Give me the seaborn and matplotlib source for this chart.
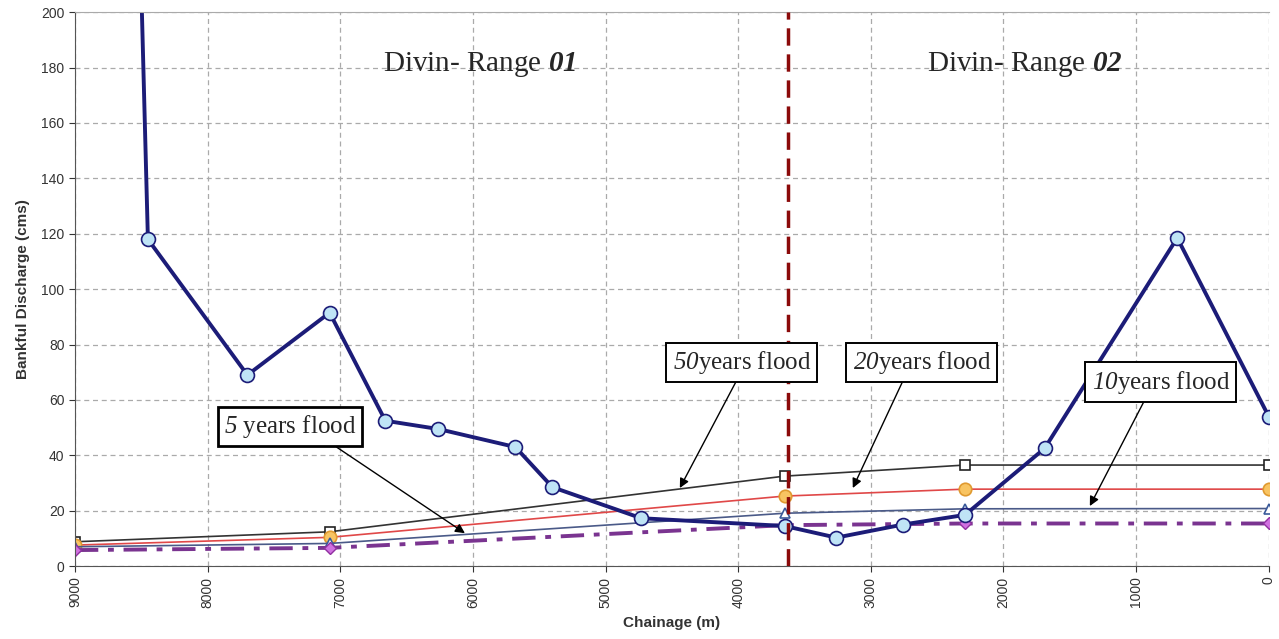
import pandas as pd
import seaborn as sns
import matplotlib.pyplot as plt

# bankful discharge along the reach
chainage = [8530, 8450, 7700, 7080, 6660, 6260, 5680, 5400, 4730, 3650, 3260, 2760, 2290, 1690, 690, 0]
discharge = [263, 118, 69, 91.5, 52.5, 49.5, 43, 28.5, 17.3, 14.5, 10.3, 15, 18.5, 42.5, 118.5, 54]

# flood discharges
flood_x = [9000, 7080, 3650, 2290, 0]
q50 = [8.8, 12.4, 32.5, 36.5, 36.5]
q20 = [7.6, 10.4, 25.3, 27.8, 27.8]
q10 = [7.0, 8.2, 19.1, 20.7, 20.8]
q5 = [5.8, 6.6, 14.8, 15.4, 15.4]

divide_x = 3625

sns.set_style("white")
plt.rcParams['font.family'] = ['Liberation Sans', 'DejaVu Sans']
plt.rcParams['mathtext.fontset'] = 'custom'
plt.rcParams['mathtext.rm'] = 'Liberation Serif'
plt.rcParams['mathtext.sf'] = 'Liberation Serif:italic'   # italic digits
plt.rcParams['mathtext.bf'] = 'Liberation Serif:bold:italic'

fig = plt.figure(figsize=(12.79, 6.39), dpi=100)
ax = fig.add_axes([0.0586, 0.114, 0.9334, 0.867])

sns.lineplot(x=flood_x, y=q50, ax=ax, color='#333333', lw=1.2, marker='s',
             markersize=7, markerfacecolor='white', markeredgecolor='#222222', markeredgewidth=1.2, sort=False)
sns.lineplot(x=flood_x, y=q20, ax=ax, color='#e04848', lw=1.2, marker='o',
             markersize=9, markerfacecolor='#f8c462', markeredgecolor='#e09a30', markeredgewidth=1.2, sort=False)
sns.lineplot(x=flood_x, y=q10, ax=ax, color='#4a5a88', lw=1.2, marker='^',
             markersize=7, markerfacecolor='white', markeredgecolor='#3a5a9a', markeredgewidth=1.2, sort=False)
sns.lineplot(x=flood_x, y=q5, ax=ax, color='#7a3490', lw=2.8, marker='D', linestyle=(0, (6, 2.5, 1.5, 2.5)),
             markersize=6, markerfacecolor='#d070e0', markeredgecolor='#9030a0', markeredgewidth=1, sort=False)
sns.lineplot(x=chainage, y=discharge, ax=ax, color='#1c1c78', lw=2.8, marker='o',
             markersize=10, markerfacecolor='#bfe4f6', markeredgecolor='#1c1c78', markeredgewidth=1.2, sort=False)

ax.axvline(divide_x, color='#8b0a0a', lw=2.5, linestyle=(0, (5, 2.5)), zorder=5)

ax.set_xlim(9000, 0)
ax.set_ylim(0, 200)
ax.set_xticks(range(0, 9001, 1000))
ax.set_yticks(range(0, 201, 20))
ax.grid(True, color='#aaaaaa', lw=0.9, linestyle=(0, (4, 3)))
ax.tick_params(axis='x', rotation=90, labelsize=10, colors='#333333', length=4, direction='out')
ax.tick_params(axis='y', labelsize=10, colors='#333333', length=4, direction='out')
ax.tick_params(bottom=True, left=True)
ax.spines['right'].set_visible(False)
ax.spines['top'].set_color('#aaaaaa')
ax.spines['left'].set_color('#555555')
ax.spines['bottom'].set_color('#555555')
ax.set_xlabel('Chainage (m)', fontsize=11, fontweight='bold', color='#333333', labelpad=6)
ax.set_ylabel('Bankful Discharge (cms)', fontsize=11, fontweight='bold', color='#333333', labelpad=8)

serif = ['Liberation Serif', 'DejaVu Serif']
ax.text(5950, 181, r'Divin- Range $\mathbf{01}$', fontsize=21, family=serif, ha='center', va='center')
ax.text(1840, 181, r'Divin- Range $\mathbf{02}$', fontsize=21, family=serif, ha='center', va='center')

notes = [
    (r'$\mathsf{50}$years flood', (3972, 73.6), (4440, 28.2), 0.48),
    (r'$\mathsf{20}$years flood', (2615, 73.6), (3136, 28.2), 0.38),
    (r'$\mathsf{10}$years flood', (814, 66.4), (1349, 21.7), 0.4),
    (r'$\mathsf{5}$ years flood', (7379, 50.5), (6060, 11.9), 0.77),
]
for i, (label, xy_text, xy_tip, rp) in enumerate(notes):
    ax.annotate(label, xy=xy_tip, xytext=xy_text, fontsize=18, family=serif, ha='center', va='center', zorder=6,
                bbox=dict(boxstyle='square,pad=0.25', fc='white', ec='black', lw=2 if i == 3 else 1.4),
                arrowprops=dict(arrowstyle='-|>', color='black', lw=1, shrinkA=0, shrinkB=0,
                                relpos=(rp, 0), mutation_scale=14))

fig.savefig('out.png', dpi=100)
